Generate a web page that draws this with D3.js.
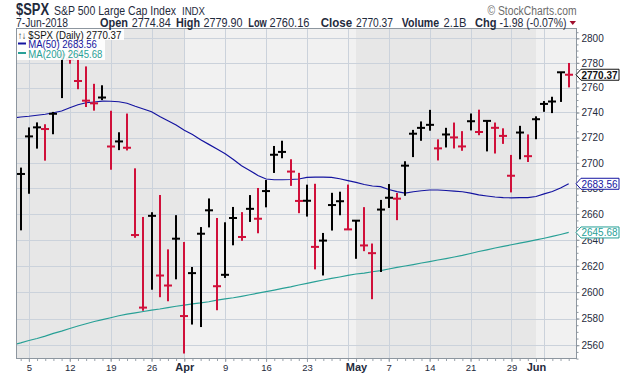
<!DOCTYPE html>
<html>
<head>
<meta charset="utf-8">
<script src="https://cdn.jsdelivr.net/npm/d3@7"></script>
<style>
  body { margin: 0; background: #fff; }
  text { font-family: "Liberation Sans", Arial, sans-serif; }
</style>
</head>
<body>
<div id="chart"></div>
<script>
var width = 620
var height = 376
var plot = {left: 16, right: 576, top: 28.5, bottom: 358.5}

// trading days (Mar 1 sits just off the left edge)
var dates = ["2018-03-01","2018-03-02","2018-03-05","2018-03-06","2018-03-07","2018-03-08","2018-03-09",
  "2018-03-12","2018-03-13","2018-03-14","2018-03-15","2018-03-16","2018-03-19","2018-03-20","2018-03-21",
  "2018-03-22","2018-03-23","2018-03-26","2018-03-27","2018-03-28","2018-03-29","2018-04-02","2018-04-03",
  "2018-04-04","2018-04-05","2018-04-06","2018-04-09","2018-04-10","2018-04-11","2018-04-12","2018-04-13",
  "2018-04-16","2018-04-17","2018-04-18","2018-04-19","2018-04-20","2018-04-23","2018-04-24","2018-04-25",
  "2018-04-26","2018-04-27","2018-04-30","2018-05-01","2018-05-02","2018-05-03","2018-05-04","2018-05-07",
  "2018-05-08","2018-05-09","2018-05-10","2018-05-11","2018-05-14","2018-05-15","2018-05-16","2018-05-17",
  "2018-05-18","2018-05-21","2018-05-22","2018-05-23","2018-05-24","2018-05-25","2018-05-29","2018-05-30",
  "2018-05-31","2018-06-01","2018-06-04","2018-06-05","2018-06-06","2018-06-07"]

var highs = [2730.89,2696.25,2728.09,2732.08,2730.60,2740.45,2786.57,2796.98,2801.90,2777.11,2763.03,2761.85,
  2741.38,2724.22,2739.14,2695.68,2657.67,2661.36,2674.78,2632.65,2659.07,2638.30,2619.14,2649.86,2672.08,
  2656.88,2653.55,2665.45,2661.43,2674.72,2680.26,2686.49,2713.34,2717.49,2702.84,2692.13,2682.86,2683.55,
  2645.30,2676.48,2677.35,2682.92,2655.27,2665.30,2637.14,2670.93,2683.35,2676.34,2701.27,2726.11,2732.86,
  2742.10,2718.59,2727.76,2731.96,2725.11,2739.19,2742.24,2733.33,2731.97,2727.36,2706.26,2729.34,2722.50,
  2736.93,2749.16,2752.61,2772.39,2779.90]

var lows = [2659.65,2647.32,2675.75,2711.26,2701.74,2722.65,2751.54,2779.26,2758.68,2744.38,2741.47,2749.97,
  2694.59,2710.05,2709.79,2641.59,2585.89,2601.81,2596.12,2593.06,2609.72,2553.80,2575.49,2573.61,2649.58,
  2586.27,2610.79,2635.78,2639.25,2653.83,2645.05,2665.16,2692.05,2703.63,2681.90,2660.61,2657.99,2617.32,
  2612.67,2647.16,2659.01,2648.04,2625.41,2631.25,2594.62,2615.32,2664.70,2655.20,2674.14,2704.54,2717.45,
  2725.47,2701.91,2712.17,2711.36,2709.54,2725.70,2721.88,2709.05,2707.38,2714.99,2676.81,2702.78,2700.68,
  2718.70,2740.54,2739.51,2748.46,2760.16]

var closes = [2677.67,2691.25,2720.94,2728.12,2726.80,2738.97,2786.57,2783.02,2765.31,2749.48,2747.33,2752.01,
  2712.92,2716.94,2711.93,2643.69,2588.26,2658.55,2612.62,2605.00,2640.87,2581.88,2614.45,2644.69,2662.84,
  2604.47,2613.16,2656.87,2642.19,2663.99,2656.30,2677.84,2706.39,2708.64,2693.13,2670.14,2670.29,2634.56,
  2639.40,2666.94,2669.91,2648.05,2654.80,2635.67,2629.73,2663.42,2672.63,2671.92,2697.79,2723.07,2727.72,
  2730.13,2711.45,2722.46,2720.13,2712.97,2733.01,2724.44,2733.29,2727.76,2721.33,2689.86,2724.01,2705.27,
  2734.62,2746.87,2748.80,2772.35,2770.37]

var ma50 = [2735.6,2736.4,2737.0,2737.8,2738.6,2739.8,2741.2,2743.8,2746.2,2747.8,2748.4,2749.1,2749.0,
  2748.6,2747.4,2745.0,2742.8,2740.6,2736.8,2733.4,2730.0,2725.9,2722.4,2718.2,2714.6,2710.9,2707.1,2702.6,
  2697.7,2694.0,2690.1,2687.3,2686.7,2686.7,2686.9,2687.3,2688.6,2688.7,2688.7,2688.6,2687.5,2686.0,2684.6,
  2683.0,2681.8,2681.3,2679.1,2677.4,2676.3,2677.3,2678.1,2678.7,2678.7,2678.3,2677.8,2677.3,2676.3,2674.9,
  2674.0,2673.2,2672.7,2672.6,2672.7,2672.8,2673.6,2675.6,2677.5,2680.3,2683.56]

var ma200 = [2560.2,2561.7,2563.5,2565.0,2566.8,2568.9,2570.5,2572.5,2574.4,2576.1,2577.8,2579.2,2580.6,
  2582.1,2583.4,2584.3,2585.3,2586.3,2587.2,2588.3,2589.3,2590.2,2591.1,2591.8,2592.7,2593.9,2594.8,2595.7,
  2596.8,2598.0,2599.2,2600.3,2601.5,2602.8,2604.0,2605.4,2606.7,2608.0,2609.2,2610.4,2611.5,2612.7,2613.8,
  2614.5,2615.5,2616.3,2617.6,2618.8,2619.9,2621.0,2622.2,2623.3,2624.5,2625.6,2626.8,2628.0,2629.5,2631.0,
  2632.3,2633.7,2635.0,2636.2,2637.4,2638.6,2639.9,2641.2,2642.6,2644.1,2645.68]

var yTicks = [2560,2580,2600,2620,2640,2660,2680,2700,2720,2740,2760,2780,2800]
var xLabelDates = ["2018-03-05","2018-03-12","2018-03-19","2018-03-26","2018-04-02","2018-04-09","2018-04-16",
  "2018-04-23","2018-05-01","2018-05-07","2018-05-14","2018-05-21","2018-05-29","2018-06-01"]
var xLabelTexts = ["5","12","19","26","Apr","9","16","23","May","7","14","21","29","Jun"]
var monthLabels = ["Apr","May","Jun"]
var weekStarts = ["2018-03-05","2018-03-12","2018-03-19","2018-03-26","2018-04-02","2018-04-09","2018-04-16",
  "2018-04-23","2018-04-30","2018-05-07","2018-05-14","2018-05-21","2018-05-29","2018-06-04"]
var monthStarts = ["2018-04-02","2018-05-01","2018-06-01"]

var ink = "#1f2b3d"
var upColor = "#000000"
var downColor = "#d0103a"
var ma50Color = "#1414a0"
var ma200Color = "#28a096"
var gridColor = "#cbd2db"

var svg = d3.select("#chart").append("svg")
    .attr("width", width)
    .attr("height", height)

svg.append("defs").append("clipPath").attr("id", "plotclip")
  .append("rect")
    .attr("x", plot.left).attr("y", plot.top)
    .attr("width", plot.right - plot.left).attr("height", plot.bottom - plot.top)

var x = d3.scalePoint().domain(dates).range([12.52, 568.7])
var y = d3.scaleLog().domain([2560, 2800]).range([345.2, 38.3])

// month bands
var bandEdges = [plot.left].concat(monthStarts.map(function(d){ return x(d) })).concat([plot.right])
var plotG = svg.append("g").attr("clip-path", "url(#plotclip)")
for (var i = 0; i < bandEdges.length - 1; i++) {
  plotG.append("rect")
    .attr("x", bandEdges[i]).attr("y", plot.top)
    .attr("width", bandEdges[i+1] - bandEdges[i]).attr("height", plot.bottom - plot.top)
    .attr("fill", i % 2 == 0 ? "#e7e7e7" : "#f1f1f1")
}

// grid
plotG.selectAll(".hgrid").data(yTicks).enter().append("line")
    .attr("x1", plot.left).attr("x2", plot.right)
    .attr("y1", function(d){ return Math.round(y(d)) + 0.5 })
    .attr("y2", function(d){ return Math.round(y(d)) + 0.5 })
    .attr("stroke", gridColor)
plotG.selectAll(".vgrid").data(weekStarts).enter().append("line")
    .attr("x1", function(d){ return Math.round(x(d)) + 0.5 })
    .attr("x2", function(d){ return Math.round(x(d)) + 0.5 })
    .attr("y1", plot.top).attr("y2", plot.bottom)
    .attr("stroke", gridColor)

// moving averages
var line = d3.line().x(function(d, i){ return x(dates[i]) }).y(function(d){ return y(d) })
plotG.append("path").attr("d", line(ma200)).attr("fill", "none")
    .attr("stroke", ma200Color).attr("stroke-width", 1.2)
plotG.append("path").attr("d", line(ma50)).attr("fill", "none")
    .attr("stroke", ma50Color).attr("stroke-width", 1.2)

// HLC bars, coloured against the previous close
var bars = plotG.selectAll(".bar").data(dates.slice(1)).enter().append("g")
bars.each(function(d, j) {
  var i = j + 1
  var cx = Math.round(x(d))
  var col = closes[i] < closes[i-1] ? downColor : upColor
  var g = d3.select(this)
  var yh = y(highs[i]), yl = y(lows[i]), yc = y(closes[i])
  g.append("rect").attr("x", cx - 1).attr("y", yh).attr("width", 2)
    .attr("height", Math.max(yl - yh, 1)).attr("fill", col)
  g.append("rect").attr("x", cx - 4).attr("y", yc - 1).attr("width", 8).attr("height", 2)
    .attr("fill", col)
})

// frame
svg.append("rect")
    .attr("x", plot.left + 0.5).attr("y", plot.top)
    .attr("width", plot.right - plot.left).attr("height", plot.bottom - plot.top)
    .attr("fill", "none").attr("stroke", "#8d969f")

// right axis
var yMinor = d3.range(2550, 2810, 5)
svg.append("g").attr("transform", "translate(" + (plot.right + 0.5) + ",0)")
    .call(d3.axisRight(y).tickValues(yMinor).tickSize(2).tickFormat(""))
    .call(function(g){ g.select(".domain").remove() })
    .selectAll("line").attr("stroke", "#8d969f")
var yAxis = svg.append("g").attr("transform", "translate(" + (plot.right + 0.5) + ",0)")
    .call(d3.axisRight(y).tickValues(yTicks).tickSize(3).tickPadding(2).tickFormat(d3.format("d")))
yAxis.select(".domain").remove()
yAxis.selectAll("line").attr("stroke", "#8d969f")
yAxis.selectAll("text").attr("fill", ink).attr("font-size", 10)
    .attr("font-family", "Liberation Sans, Arial, sans-serif")

// bottom axis
svg.append("g").attr("transform", "translate(0," + (plot.bottom + 0.5) + ")")
    .call(d3.axisBottom(x).tickValues(dates.slice(1)).tickSize(2).tickFormat(""))
    .call(function(g){ g.select(".domain").remove() })
    .selectAll("line").attr("stroke", "#9aa2ab")
var xAxis = svg.append("g").attr("transform", "translate(0," + (plot.bottom + 0.5) + ")")
    .call(d3.axisBottom(x).tickValues(xLabelDates).tickSize(3)
      .tickFormat(function(d){ return xLabelTexts[xLabelDates.indexOf(d)] }))
xAxis.select(".domain").remove()
xAxis.selectAll("line").attr("stroke", "#9aa2ab")
xAxis.selectAll("text")
    .attr("y", 11.5).attr("dy", 0)
    .attr("fill", ink)
    .attr("font-family", "Liberation Sans, Arial, sans-serif")
    .attr("font-size", function(d){ return monthLabels.indexOf(xLabelTexts[xLabelDates.indexOf(d)]) >= 0 ? 11 : 9.5 })
    .attr("font-weight", function(d){ return monthLabels.indexOf(xLabelTexts[xLabelDates.indexOf(d)]) >= 0 ? "bold" : null })

// text helper
function label(g, tx, ty, s, size, opts) {
  opts = opts || {}
  var t = g.append("text").attr("x", tx).attr("y", ty).text(s)
    .attr("font-size", size).attr("fill", opts.fill || ink)
  if (opts.bold) t.attr("font-weight", "bold")
  if (opts.len) t.attr("textLength", opts.len).attr("lengthAdjust", "spacingAndGlyphs")
  return t
}

// legend
var leg = svg.append("g")
leg.append("rect").attr("x", plot.left + 1).attr("y", plot.top + 0.5).attr("width", 107).attr("height", 11)
    .attr("fill", "#fff").attr("opacity", 0.92)
leg.append("rect").attr("x", plot.left + 1).attr("y", plot.top + 11.5).attr("width", 88).attr("height", 20)
    .attr("fill", "#fff").attr("opacity", 0.92)
label(leg, 18, 38.5, "↑↓", 10, {fill: "#111", len: 8})
label(leg, 28.3, 38.5, "$SPX (Daily) 2770.37", 11, {fill: "#111", len: 93})
leg.append("line").attr("x1", 18).attr("x2", 26).attr("y1", 43.5).attr("y2", 43.5)
    .attr("stroke", ma50Color).attr("stroke-width", 2)
label(leg, 28.3, 48, "MA(50) 2683.56", 11, {fill: ma50Color, len: 68.5})
leg.append("line").attr("x1", 18).attr("x2", 26).attr("y1", 53).attr("y2", 53)
    .attr("stroke", ma200Color).attr("stroke-width", 2)
label(leg, 28.3, 57.7, "MA(200) 2645.68", 11, {fill: ma200Color, len: 74})

// value flags on the right axis
function flag(v, col, txtCol, bold) {
  var fy = y(v)
  var g = svg.append("g")
  g.append("path")
    .attr("d", "M576," + fy + "L581," + (fy - 5.5) + "L619," + (fy - 5.5) + "L619," + (fy + 5.5) + "L581," + (fy + 5.5) + "Z")
    .attr("fill", "#fff").attr("stroke", col)
  label(g, 581.5, fy + 4, d3.format(".2f")(v), 10.5, {fill: txtCol, bold: bold, len: 36})
}
flag(ma200[ma200.length - 1], ma200Color, ma200Color, false)
flag(ma50[ma50.length - 1], ma50Color, ma50Color, false)
flag(closes[closes.length - 1], "#111", "#111", true)

// header
var head = svg.append("g")
label(head, 16, 15, "$SPX", 16, {bold: true, len: 33})
label(head, 54, 14.5, "S&P 500 Large Cap Index", 12.5, {len: 122})
label(head, 182, 14.5, "INDX", 10.5, {len: 23})
label(head, 16, 26.5, "7-Jun-2018", 12, {len: 52})
label(head, 100, 26.5, "Open", 12.5, {bold: true, len: 28})
label(head, 131.7, 26.5, "2774.84", 12, {len: 39})
label(head, 176, 26.5, "High", 12.5, {bold: true, len: 24})
label(head, 203.5, 26.5, "2779.90", 12, {len: 39})
label(head, 248.3, 26.5, "Low", 12.5, {bold: true, len: 18.5})
label(head, 269.5, 26.5, "2760.16", 12, {len: 40})
label(head, 320.7, 26.5, "Close", 12.5, {bold: true, len: 31.5})
label(head, 356, 26.5, "2770.37", 12, {len: 37})
label(head, 401.7, 26.5, "Volume", 12.5, {bold: true, len: 37.5})
label(head, 443.5, 26.5, "2.1B", 12, {len: 23})
label(head, 475, 26.5, "Chg", 12.5, {bold: true, len: 21.5})
label(head, 499.5, 26.5, "-1.98 (-0.07%)", 12, {len: 67})
head.append("path").attr("d", "M569.5,21L576,21L572.75,25Z").attr("fill", "#a0102e")
label(head, 487.5, 15, "© StockCharts.com", 12, {fill: "#6b6b6b", len: 89})
</script>
</body>
</html>
